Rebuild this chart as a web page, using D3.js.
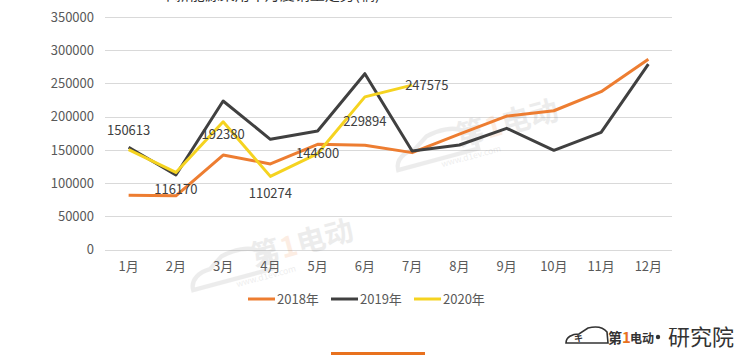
<!DOCTYPE html>
<html><head><meta charset="utf-8">
<script src="https://cdn.jsdelivr.net/npm/d3@7"></script>
<style>
html,body{margin:0;padding:0;background:#fff;}
svg{display:block;font-family:"Noto Sans CJK SC","Noto Sans",sans-serif;}
</style></head>
<body>
<svg id="chart" width="754" height="355"></svg>
<script>
const months = ["1月","2月","3月","4月","5月","6月","7月","8月","9月","10月","11月","12月"];
const sales2018 = [82000, 81000, 142400, 129000, 158500, 157000, 146000, 173700, 201000, 209000, 237700, 286500];
const sales2019 = [154000, 112300, 223700, 166000, 178500, 264700, 148500, 157500, 182600, 149500, 176600, 279000];
const sales2020 = [150613, 116170, 192380, 110274, 144600, 229894, 247575];
const yTicks = [0, 50000, 100000, 150000, 200000, 250000, 300000, 350000];
const seriesNames = ["2018年", "2019年", "2020年"];
const labelSpots = ["above", "below", "below", "below", "center", "below", "right"];
const titleText = "2018-2020年新能源乘用车月度销量走势(辆)";

(function () {
const colors = ["#ED7D31", "#404040", "#F5D320"];
const svg = d3.select("#chart");
const pl = 105, pr = 672, pt = 17, pb = 249.7;

const x = d3.scaleBand().domain(months).range([pl, pr]).paddingInner(0).paddingOuter(0);
const y = d3.scaleLinear().domain([0, 350000]).range([pb, pt]);

// title (cut off at top, as in the reference)
svg.append("text").attr("x", 380).attr("y", 0).attr("text-anchor", "end")
  .attr("font-size", 15).attr("fill", "#333").text(titleText);

// gridlines
svg.append("g").selectAll("line").data(yTicks).join("line")
  .attr("x1", pl).attr("x2", pr)
  .attr("y1", d => Math.round(y(d)) + 0.5).attr("y2", d => Math.round(y(d)) + 0.5)
  .attr("stroke", "#d9d9d9").attr("stroke-width", 1);

// y axis labels
const yAxis = d3.axisLeft(y).tickValues(yTicks).tickSize(0).tickPadding(0).tickFormat(d3.format("d"));
const gy = svg.append("g").attr("transform", `translate(${pl - 11},0)`).call(yAxis);
gy.select(".domain").remove();
gy.selectAll("text").attr("font-size", 13).attr("fill", "#595959")
  .attr("font-family", '"Noto Sans CJK SC","Noto Sans",sans-serif');

// x axis labels
const xAxis = d3.axisBottom(x).tickSize(0).tickPadding(0);
const gx = svg.append("g").attr("transform", `translate(0,${pb + 12})`).call(xAxis);
gx.select(".domain").remove();
gx.selectAll("text").attr("font-size", 13).attr("fill", "#595959")
  .attr("font-family", '"Noto Sans CJK SC","Noto Sans",sans-serif');

// watermarks
function watermark(cx, cy, s) {
  const g = svg.append("g").attr("transform", `translate(${cx},${cy}) rotate(-15) scale(${s})`).attr("opacity", 0.13);
  g.append("path").attr("d", "M-70,10 C-70,-5 -55,-12 -40,-12 L-20,-25 C0,-30 20,-28 30,-20 L45,-12 L45,10 Z")
    .attr("fill", "none").attr("stroke", "#777").attr("stroke-width", 6);
  g.append("text").attr("x", 20).attr("y", 0).attr("font-size", 40).attr("font-weight", "bold").attr("fill", "#777").text("第");
  g.append("text").attr("x", 62).attr("y", 0).attr("font-size", 40).attr("font-weight", "bold").attr("fill", "#ED7D31").text("1");
  g.append("text").attr("x", 86).attr("y", 0).attr("font-size", 40).attr("font-weight", "bold").attr("fill", "#777").text("电动");
  g.append("text").attr("x", -10).attr("y", 22).attr("font-size", 12).attr("fill", "#777").text("www.d1ev.com");
}
watermark(445, 150, 0.72);
watermark(240, 270, 0.72);

// lines
const line = d3.line().x((d, i) => x(months[i]) + x.bandwidth() / 2).y(d => y(d));
[sales2018, sales2019, sales2020].forEach((s, k) => {
  svg.append("path").datum(s).attr("d", line).attr("fill", "none")
    .attr("stroke", colors[k]).attr("stroke-width", 3).attr("stroke-linejoin", "round");
});

// data labels for 2020
svg.append("g").selectAll("text").data(sales2020).join("text")
  .attr("x", (d, i) => {
    const cx = x(months[i]) + x.bandwidth() / 2;
    return labelSpots[i] === "right" ? cx - 7 : cx;
  })
  .attr("y", (d, i) => {
    const cy = y(d);
    const p = labelSpots[i];
    if (p === "above") return cy - 19;
    if (p === "below") return cy + (i === 5 ? 25 : i === 2 ? 13 : 17);
    return cy;
  })
  .attr("text-anchor", (d, i) => labelSpots[i] === "right" ? "start" : "middle")
  .attr("dy", "0.35em").attr("font-size", 13).attr("fill", "#404040")
  .text(d => d);

// legend
const legendX = [248, 331, 414];
const lg = svg.append("g");
seriesNames.forEach((n, k) => {
  lg.append("line").attr("x1", legendX[k]).attr("x2", legendX[k] + 27)
    .attr("y1", 299).attr("y2", 299).attr("stroke", colors[k]).attr("stroke-width", 3);
  lg.append("text").attr("x", legendX[k] + 29).attr("y", 299).attr("dy", "0.35em")
    .attr("font-size", 13).attr("fill", "#595959").text(n);
});

// bottom accent bar
svg.append("rect").attr("x", 331).attr("y", 352).attr("width", 94).attr("height", 3).attr("fill", "#E8711E");

// logo bottom right
const logo = svg.append("g");
logo.append("path").attr("d", "M566,343 C566,337 572,334 579,334 L588,328 C596,326 603,327 607,332 L608,343 Z")
  .attr("fill", "none").attr("stroke", "#333").attr("stroke-width", 1.6);
logo.append("text").attr("x", 574).attr("y", 341).attr("font-size", 9).attr("font-weight", "bold").attr("fill", "#333").text("キ");
logo.append("text").attr("x", 608).attr("y", 343).attr("font-size", 14).attr("font-weight", "bold").attr("fill", "#333").text("第");
logo.append("text").attr("x", 622).attr("y", 343).attr("font-size", 15).attr("font-weight", "bold").attr("fill", "#E8711E").text("1");
logo.append("text").attr("x", 630).attr("y", 343).attr("font-size", 12).attr("font-weight", "bold").attr("fill", "#333").text("电动");
logo.append("circle").attr("cx", 658).attr("cy", 337).attr("r", 2.2).attr("fill", "#333");
logo.append("text").attr("x", 668).attr("y", 345).attr("font-size", 22).attr("fill", "#333").text("研究院");
})();
</script>
</body></html>
